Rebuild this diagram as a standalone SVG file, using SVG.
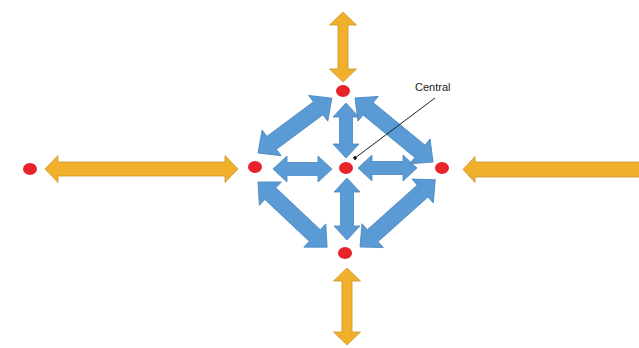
<svg xmlns="http://www.w3.org/2000/svg" width="639" height="348" viewBox="0 0 639 348">
<style>
.blue{fill:#5B9BD5;stroke:#4A86BE;stroke-width:0.8}
.gold{fill:#F0B02C;stroke:#C9962A;stroke-width:0.8}
.dot{fill:#E8232B}
.lbl{font-family:"Liberation Sans",Arial,sans-serif;font-size:11px;fill:#222}
</style>
<defs>
<marker id="tip" markerWidth="4" markerHeight="4" refX="2" refY="2" orient="auto" markerUnits="userSpaceOnUse">
<circle cx="2" cy="2" r="1.8" fill="#111"/>
</marker>
</defs>
<rect width="639" height="348" fill="#fff"/>
<g id="connectors">
<!-- gold arrows -->
<polygon class="gold" transform="translate(45,169)" points="0,0 13,-13.5 13,-7 180,-7 180,-13.5 193,0 180,13.5 180,7 13,7 13,13.5"/>
<polygon class="gold" transform="translate(463,169.5)" points="0,0 12,-13 12,-7.5 180,-7.5 180,7.5 12,7.5 12,13"/>
<polygon class="gold" transform="translate(343,12) rotate(90)" points="0,0 13,-13.5 13,-5 57,-5 57,-13.5 70,0 57,13.5 57,5 13,5 13,13.5"/>
<polygon class="gold" transform="translate(347,268) rotate(90)" points="0,0 13,-13.5 13,-5 64,-5 64,-13.5 77,0 64,13.5 64,5 13,5 13,13.5"/>
<!-- blue arrows -->
<polygon class="blue" transform="translate(346,103) rotate(90)" points="0,0 14,-13 14,-6.5 41,-6.5 41,-13 55,0 41,13 41,6.5 14,6.5 14,13"/>
<polygon class="blue" transform="translate(347,178) rotate(90)" points="0,0 14,-13 14,-6.5 48,-6.5 48,-13 62,0 48,13 48,6.5 14,6.5 14,13"/>
<polygon class="blue" transform="translate(273,169)" points="0,0 14,-13 14,-6.5 45,-6.5 45,-13 59,0 45,13 45,6.5 14,6.5 14,13"/>
<polygon class="blue" transform="translate(358,168)" points="0,0 14,-13 14,-6.5 45,-6.5 45,-13 59,0 45,13 45,6.5 14,6.5 14,13"/>
<polygon class="blue" transform="translate(258,153) rotate(-36.6)" points="0,0 17,-16 17,-8 75,-8 75,-16 92,0 75,16 75,8 17,8 17,16"/>
<polygon class="blue" transform="translate(355,98) rotate(39.4)" points="0,0 17,-16 17,-8 84,-8 84,-16 101,0 84,16 84,8 17,8 17,16"/>
<polygon class="blue" transform="translate(258,182) rotate(43.3)" points="0,0 17,-16 17,-8 78,-8 78,-16 95,0 78,16 78,8 17,8 17,16"/>
<polygon class="blue" transform="translate(360,247) rotate(-41.8)" points="0,0 17,-16 17,-8 84,-8 84,-16 101,0 84,16 84,8 17,8 17,16"/>
<!-- label leader -->
<line x1="435" y1="98" x2="355" y2="158" stroke="#222" stroke-width="1" marker-end="url(#tip)"/>
</g>
<g id="node-far-left"><ellipse class="dot" cx="30" cy="169" rx="7" ry="6"/></g>
<g id="node-left"><ellipse class="dot" cx="255" cy="167" rx="7" ry="6"/></g>
<g id="node-top"><ellipse class="dot" cx="343" cy="91" rx="7" ry="6"/></g>
<g id="node-central"><ellipse class="dot" cx="346" cy="168" rx="7" ry="6"/></g>
<g id="node-right"><ellipse class="dot" cx="442" cy="168" rx="7" ry="6"/></g>
<g id="node-bottom"><ellipse class="dot" cx="345" cy="253" rx="7" ry="6"/></g>
<g id="label-central"><text class="lbl" x="415" y="91">Central</text></g>
</svg>
